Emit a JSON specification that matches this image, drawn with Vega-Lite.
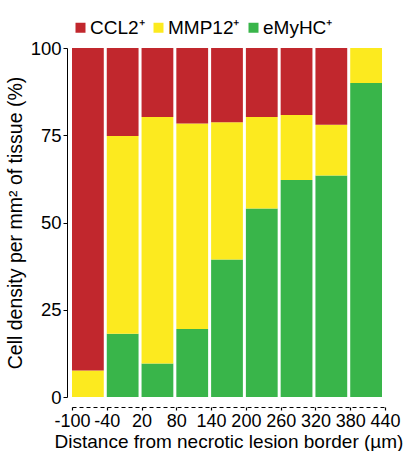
{
  "$schema": "https://vega.github.io/schema/vega-lite/v6.json",
  "width": 313,
  "height": 349,
  "autosize": {"type": "none"},
  "padding": {"left": 72, "top": 48, "right": 22, "bottom": 54},
  "background": "white",
  "config": {
    "view": {"stroke": null},
    "font": "Liberation Sans",
    "axis": {"labelColor": "black", "titleColor": "black", "domainColor": "black", "tickColor": "black", "titleFontWeight": "normal", "grid": false}
  },
  "data": {
    "values": [
      {"start": -100, "end": -40, "marker": "eMyHC⁺", "percent": 0},
      {"start": -100, "end": -40, "marker": "MMP12⁺", "percent": 7.6},
      {"start": -100, "end": -40, "marker": "CCL2⁺", "percent": 92.4},
      {"start": -40, "end": 20, "marker": "eMyHC⁺", "percent": 18.1},
      {"start": -40, "end": 20, "marker": "MMP12⁺", "percent": 56.7},
      {"start": -40, "end": 20, "marker": "CCL2⁺", "percent": 25.2},
      {"start": 20, "end": 80, "marker": "eMyHC⁺", "percent": 9.6},
      {"start": 20, "end": 80, "marker": "MMP12⁺", "percent": 70.6},
      {"start": 20, "end": 80, "marker": "CCL2⁺", "percent": 19.8},
      {"start": 80, "end": 140, "marker": "eMyHC⁺", "percent": 19.5},
      {"start": 80, "end": 140, "marker": "MMP12⁺", "percent": 58.9},
      {"start": 80, "end": 140, "marker": "CCL2⁺", "percent": 21.6},
      {"start": 140, "end": 200, "marker": "eMyHC⁺", "percent": 39.4},
      {"start": 140, "end": 200, "marker": "MMP12⁺", "percent": 39.3},
      {"start": 140, "end": 200, "marker": "CCL2⁺", "percent": 21.3},
      {"start": 200, "end": 260, "marker": "eMyHC⁺", "percent": 54.0},
      {"start": 200, "end": 260, "marker": "MMP12⁺", "percent": 26.2},
      {"start": 200, "end": 260, "marker": "CCL2⁺", "percent": 19.8},
      {"start": 260, "end": 320, "marker": "eMyHC⁺", "percent": 62.2},
      {"start": 260, "end": 320, "marker": "MMP12⁺", "percent": 18.6},
      {"start": 260, "end": 320, "marker": "CCL2⁺", "percent": 19.2},
      {"start": 320, "end": 380, "marker": "eMyHC⁺", "percent": 63.5},
      {"start": 320, "end": 380, "marker": "MMP12⁺", "percent": 14.5},
      {"start": 320, "end": 380, "marker": "CCL2⁺", "percent": 22.0},
      {"start": 380, "end": 440, "marker": "eMyHC⁺", "percent": 90.0},
      {"start": 380, "end": 440, "marker": "MMP12⁺", "percent": 10.0},
      {"start": 380, "end": 440, "marker": "CCL2⁺", "percent": 0}
    ]
  },
  "transform": [
    {"stack": "percent", "groupby": ["start"], "sort": [{"field": "marker", "order": "descending"}], "as": ["p0", "p1"]}
  ],
  "mark": {"type": "bar", "x2Offset": -3},
  "encoding": {
    "x": {
      "field": "start",
      "type": "quantitative",
      "scale": {"domain": [-100, 440], "nice": false, "zero": false},
      "axis": {
        "title": "Distance from necrotic lesion border (µm)",
        "values": [-100, -40, 20, 80, 140, 200, 260, 320, 380, 440],
        "labelExpr": "replace(datum.label, '−', '-')",
        "offset": 10,
        "tickSize": 3,
        "tickWidth": 1.2,
        "domainDash": [4, 3],
        "labelFontSize": 18,
        "titleFontSize": 19,
        "labelPadding": 2,
        "titlePadding": 2,
        "labelOverlap": false,
        "labelFlush": false,
        "labelBound": false,
        "encode": {"ticks": {"update": {"y": {"value": -3}}}}
      }
    },
    "x2": {"field": "end"},
    "y": {
      "field": "p0",
      "type": "quantitative",
      "scale": {"domain": [0, 100], "nice": false},
      "axis": {
        "title": "Cell density per mm² of tissue (%)",
        "values": [0, 25, 50, 75, 100],
        "offset": 5,
        "tickSize": 4,
        "labelFontSize": 18.5,
        "titleFontSize": 19.5,
        "labelPadding": 2,
        "titlePadding": 5
      }
    },
    "y2": {"field": "p1"},
    "color": {
      "field": "marker",
      "type": "nominal",
      "scale": {"domain": ["CCL2⁺", "MMP12⁺", "eMyHC⁺"], "range": ["#C1272D", "#FCEA1F", "#39B54A"]},
      "legend": {
        "title": null,
        "orient": "none",
        "legendX": -1,
        "legendY": -30,
        "direction": "horizontal",
        "symbolType": "square",
        "symbolSize": 100,
        "symbolStrokeWidth": 0,
        "symbolOpacity": 1,
        "labelFontSize": 19,
        "labelColor": "black",
        "labelOffset": 0,
        "columnPadding": 4,
        "padding": 0
      }
    }
  }
}
